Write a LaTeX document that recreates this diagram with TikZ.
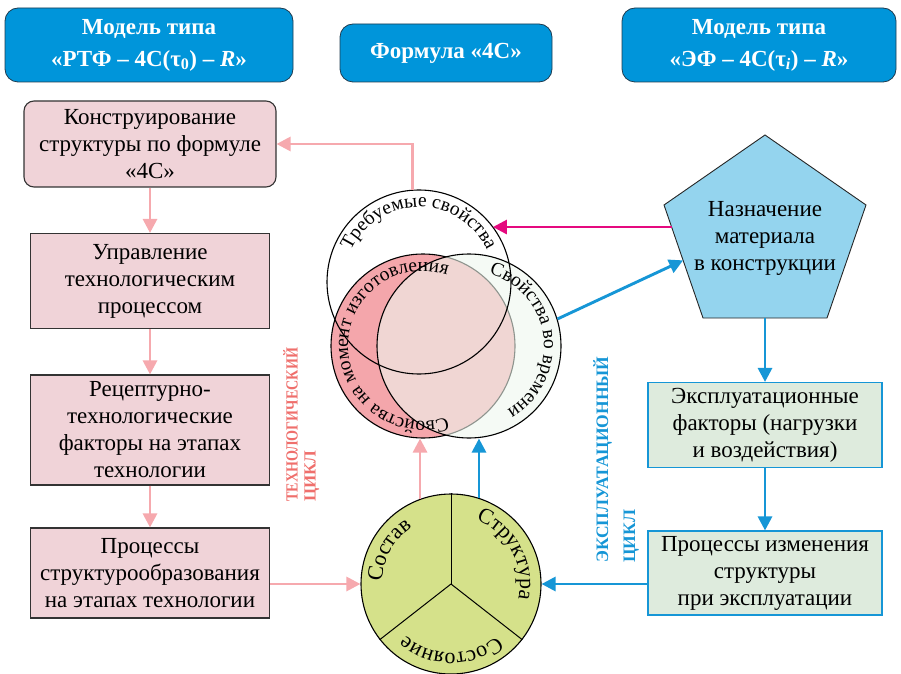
\documentclass[tikz,border=0pt]{standalone}
\usepackage{fontspec}
\setmainfont{Liberation Serif}
\usetikzlibrary{arrows.meta,calc,decorations.text}

\definecolor{hdrblue}{HTML}{0095DA}
\definecolor{hdrline}{HTML}{1F3B4F}
\definecolor{techpink}{HTML}{F0D3D8}
\definecolor{techline}{HTML}{F6A9AE}
\definecolor{techred}{HTML}{EF6F6C}
\definecolor{expgreen}{HTML}{DEEBDD}
\definecolor{expblue}{HTML}{1696D6}
\definecolor{purposeblue}{HTML}{94D4EE}
\definecolor{magline}{HTML}{E5097F}
\definecolor{madered}{HTML}{F4A6AB}
\definecolor{timegreen}{HTML}{EEF7EE}
\definecolor{basegreen}{HTML}{D5E18A}

\newcommand{\boxfont}{\fontsize{23}{27}\selectfont}
\newcommand{\vennfont}{\fontsize{19.5}{24}\selectfont}
\newcommand{\basefont}{\fontsize{22}{26}\selectfont}

\begin{document}
\begin{tikzpicture}[x = 1pt, y = 1pt,
	hdr/.style = {draw = hdrline, line width = 0.8pt, fill = hdrblue, rounded corners = 13pt, text = white, align = center, inner sep = 0pt, font = \fontsize{23}{32}\bfseries\selectfont},
	techbox/.style = {draw = black!80, line width = 1.1pt, fill = techpink, align = center, inner sep = 0pt, minimum width = 239pt, font = \boxfont},
	expbox/.style = {draw = expblue, line width = 1.1pt, fill = expgreen, align = center, inner sep = 0pt, minimum width = 234pt, font = \boxfont},
	techarrow/.style = {draw = techline, line width = 2.9pt, -{Triangle[length = 14pt, width = 14pt]}},
	exparrow/.style = {draw = expblue, line width = 2.9pt, -{Triangle[length = 14pt, width = 14pt]}},
	magarrow/.style = {draw = magline, line width = 2.9pt, -{Triangle[length = 14pt, width = 14pt]}},
	venn/.style = {circle, draw = black, line width = 1.1pt, inner sep = 0pt, minimum size = 184pt},
	arclabel/.style = {decorate, decoration = {text along path, text align = center, text = {#1}}}]
	\useasboundingbox (0, 0) rectangle (901, 673);

	% headers
	\node[hdr, minimum width = 288pt, minimum height = 74pt] (hdrleft) at (149, 628) {Модель типа\\«РТФ – 4С(τ\textsubscript{0}) – \textit{R}»};
	\node[hdr, minimum width = 212pt, minimum height = 58pt] (hdrmid) at (446, 620) {Формула «4С»};
	\node[hdr, minimum width = 274pt, minimum height = 74pt] (hdrright) at (759, 628) {Модель типа\\«ЭФ – 4С(τ\textsubscript{\textit{i}}) – \textit{R}»};

	% technological chain
	\node[techbox, rounded corners = 10pt, minimum width = 252pt, minimum height = 86pt] (design) at (150, 529) {Конструирование\\структуры по формуле\\«4С»};
	\node[techbox, minimum height = 95pt] (control) at (150, 392) {Управление\\технологическим\\процессом};
	\node[techbox, minimum height = 110pt] (recipe) at (150, 243) {Рецептурно-\\технологические\\факторы на этапах\\технологии};
	\node[techbox, minimum height = 90pt] (forming) at (150, 100) {Процессы\\структурообразования\\на этапах технологии};

	% exploitation chain
	\coordinate (p1) at (765, 538);
	\coordinate (p2) at (664, 468);
	\coordinate (p3) at (703, 355);
	\coordinate (p4) at (827, 355);
	\coordinate (p5) at (866, 468);
	\draw[fill = purposeblue, draw = black!85, line width = 0.9pt] (p1) -- (p2) -- (p3) -- (p4) -- (p5) -- cycle;
	\node[align = center, font = \boxfont] (purpose) at (765, 435) {Назначение\\материала\\в конструкции};
	\node[expbox, minimum height = 85pt] (use) at (765, 248) {Эксплуатационные\\факторы (нагрузки\\и воздействия)};
	\node[expbox, minimum height = 84pt] (change) at (765, 100) {Процессы изменения\\структуры\\при эксплуатации};

	% formula circles
	\node[venn, fill = madered] (cmade) at (423, 327) {};
	\node[venn, fill = timegreen, fill opacity = 0.6, draw opacity = 1] (ctime) at (469, 327) {};
	\node[venn] (creq) at (419, 391) {};
	\path[arclabel = {|\vennfont|Требуемые свойства}] ([shift = {(170:75)}]creq.center) arc[start angle = 170, end angle = 10, radius = 75];
	\path[arclabel = {|\vennfont|Свойства во времени}] ([shift = {(80:75)}]ctime.center) arc[start angle = 80, end angle = -65, radius = 75];
	\path[arclabel = {|\vennfont|Свойства на момент изготовления}] ([shift = {(-55:75)}]cmade.center) arc[start angle = -55, end angle = -305, radius = 75];

	\node[circle, draw = black, line width = 1.1pt, fill = basegreen, inner sep = 0pt, minimum size = 180pt] (csost) at (451, 89) {};
	\draw[line width = 1pt] (csost.center) -- (csost.90);
	\draw[line width = 1pt] (csost.center) -- (csost.218);
	\draw[line width = 1pt] (csost.center) -- (csost.322);
	\path[arclabel = {|\basefont|Состав}] ([shift = {(205:69)}]csost.center) arc[start angle = 205, end angle = 97, radius = 69];
	\path[arclabel = {|\basefont|Структура}] ([shift = {(83:69)}]csost.center) arc[start angle = 83, end angle = -27, radius = 69];
	\path[arclabel = {|\basefont|Состояние}] ([shift = {(-35:69)}]csost.center) arc[start angle = -35, end angle = -145, radius = 69];

	% cycle labels
	\node[rotate = 90, anchor = north west, align = left, inner sep = 0pt, text = techred, font = \fontsize{17}{18}\bfseries\selectfont] (techlabel) at (283, 171) {\scalebox{0.83}[1]{ТЕХНОЛОГИЧЕСКИЙ}\\ЦИКЛ};
	\node[rotate = 90, anchor = north west, align = left, inner sep = 0pt, text = expblue, font = \fontsize{17.5}{27}\bfseries\selectfont] (explabel) at (593, 110) {ЭКСПЛУАТАЦИОННЫЙ\\ЦИКЛ};

	% connectors
	\draw[techarrow] (creq.94) |- (design.east);
	\draw[techarrow] (design) -- (control);
	\draw[techarrow] (control) -- (recipe);
	\draw[techarrow] (recipe) -- (forming);
	\draw[techarrow] (forming.east |- csost.west) -- (csost.west);
	\draw[techarrow] (csost.110) -- (csost.110 |- cmade.south);
	\draw[exparrow] (csost.72) -- (csost.72 |- ctime.south);
	\draw[exparrow] (ctime.17) -- ($(p2)!0.49!(p3)$);
	\coordinate (magstart) at ($(p2)!0.195!(p3)$);
	\draw[magarrow] (magstart) -- (magstart -| creq.37);
	\draw[exparrow] ($(p3)!0.5!(p4)$) -- (use.north);
	\draw[exparrow] (use) -- (change);
	\draw[exparrow] (change.west |- csost.east) -- (csost.east);
\end{tikzpicture}
\end{document}
